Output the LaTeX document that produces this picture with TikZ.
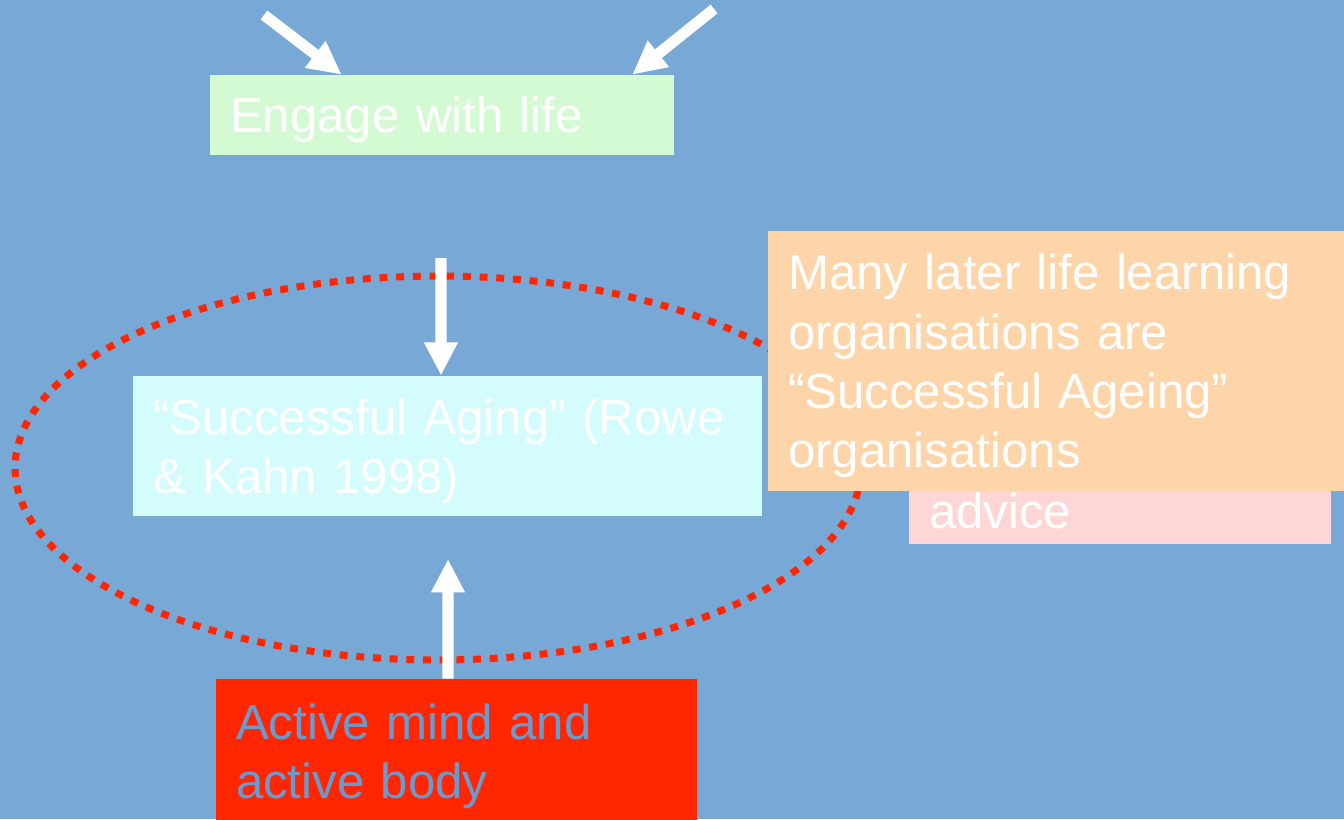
\documentclass[tikz,border=0pt]{standalone}
\usepackage{fontspec}
\setmainfont{Liberation Sans}
\usetikzlibrary{arrows.meta}
\definecolor{SlideBlue}{HTML}{78A8D6}
\definecolor{LifeGreen}{HTML}{D4FAD4}
\definecolor{AgingCyan}{HTML}{D4FCFC}
\definecolor{NoteOrange}{HTML}{FED5A8}
\definecolor{AdvicePink}{HTML}{FFD6D6}
\definecolor{MindRed}{HTML}{FF2600}
\definecolor{MindText}{HTML}{6A9BD0}

\begin{document}
\begin{tikzpicture}[x=0.02cm,y=-0.02cm,
  box/.style={inner xsep=0.4cm,inner ysep=0pt,align=left,text=white,font=\fontsize{28}{33.8}\selectfont,
    execute at begin node={\rule{0pt}{26pt}}},
  whitearrow/.style={-{Triangle[width=18pt,length=19pt]},line width=6.3pt,white}]
  \fill[SlideBlue] (0,0) rectangle (1344,819);
  \useasboundingbox (0,0) rectangle (1344,819);
  \clip (0,0) rectangle (1344,819);
  % dotted ring round the model
  \draw[MindRed,line width=4pt,dash pattern=on 4.5pt off 5pt] (438,468) ellipse [x radius=8.46cm,y radius=3.84cm];
  % boxes
  \node[box,fill=LifeGreen,minimum height=1.6cm,text width=8.48cm] (life) at (442,115) {Engage with life};
  \node[box,fill=AgingCyan,minimum height=2.8cm,text width=11.78cm] (aging) at (447.5,446) {“Successful Aging” (Rowe\\\& Kahn 1998)};
  \node[box,fill=AdvicePink,minimum height=1.52cm,text width=7.64cm] (advice) at (1120,506) {advice};
  \node[box,fill=MindRed,text=MindText,minimum height=2.88cm,text width=8.82cm] (mind) at (456.5,751) {Active mind and\\active body};
  \node[box,fill=NoteOrange,minimum height=5.2cm,text width=10.72cm] (note) at (1056,361) {Many later life learning\\organisations are\\“Successful Ageing”\\organisations};
  % arrows
  \coordinate (srcA) at (264,15);
  \coordinate (srcB) at (714,9);
  \coordinate (srcC) at (441,258);
  \coordinate (tipD) at (448,559);
  \draw[whitearrow] (srcA) -- ([xshift=2.64cm]life.north west);
  \draw[whitearrow] (srcB) -- ([xshift=-0.84cm]life.north east);
  \draw[whitearrow] (srcC) -- ([xshift=-0.13cm]aging.north);
  \draw[whitearrow] ([xshift=-0.17cm]mind.north) -- (tipD);
\end{tikzpicture}
\end{document}
